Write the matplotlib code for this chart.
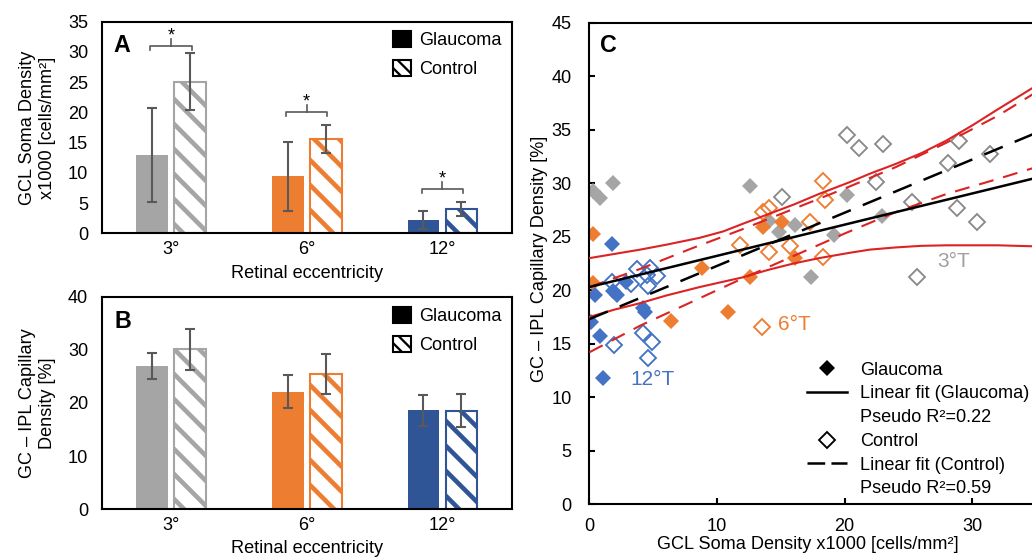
import numpy as np
import matplotlib
matplotlib.use('Agg')
import matplotlib.pyplot as plt
from matplotlib.lines import Line2D
from matplotlib.patches import Patch

plt.rcParams['font.family'] = ['Liberation Sans', 'DejaVu Sans']
plt.rcParams['lines.scale_dashes'] = False
plt.rcParams['hatch.linewidth'] = 2.2

GRAY = '#a5a5a5'
ORANGE = '#ed7d31'
BLUE_BAR = '#2f5597'
BLUE = '#4472c4'
ERR = '#595959'
RED = '#dc2323'
FS = 8.7

# ---- panels A / B : mean +- sd per eccentricity
ecc = ['3°', '6°', '12°']
bar_colors = [GRAY, ORANGE, BLUE_BAR]

soma_glaucoma = [12.9, 9.4, 2.2]
soma_glaucoma_sd = [7.8, 5.65, 1.45]
soma_control = [25.1, 15.6, 4.0]
soma_control_sd = [4.75, 2.3, 1.1]
soma_sig = [31.0, 20.1, 7.3]   # height of the significance brackets

cap_glaucoma = [27.0, 22.1, 18.6]
cap_glaucoma_sd = [2.5, 3.1, 2.9]
cap_control = [30.1, 25.4, 18.5]
cap_control_sd = [3.8, 3.8, 3.1]

# ---- panel C : soma density (x) vs capillary density (y)
gray_g_x = [0.3, 0.85, 1.85, 12.6, 14.1, 14.9, 16.1, 17.4, 19.2, 20.2, 22.9]
gray_g_y = [29.3, 28.6, 30.0, 29.7, 26.5, 25.4, 26.1, 21.2, 25.2, 28.9, 26.9]
gray_c_x = [20.2, 21.1, 23.0, 15.1, 22.5, 25.3, 28.1, 29.0, 31.4, 28.8, 30.4, 25.7]
gray_c_y = [34.5, 33.3, 33.7, 28.7, 30.1, 28.2, 31.9, 33.9, 32.7, 27.7, 26.4, 21.2]
orange_g_x = [0.3, 0.3, 6.4, 8.8, 10.9, 12.6, 13.6, 15.1, 16.1]
orange_g_y = [25.3, 20.7, 17.1, 22.1, 18.0, 21.2, 25.9, 26.4, 23.0]
orange_c_x = [18.3, 18.5, 13.6, 14.1, 17.3, 11.8, 14.1, 15.7, 18.3, 13.5]
orange_c_y = [30.2, 28.4, 27.3, 27.7, 26.4, 24.2, 23.6, 24.1, 23.1, 16.6]
blue_g_x = [1.8, 0.45, 1.85, 2.2, 2.9, 4.2, 4.35, 0.1, 0.8, 1.1]
blue_g_y = [24.3, 19.6, 19.9, 19.6, 20.8, 18.3, 18.0, 17.0, 15.7, 11.8]
blue_c_x = [1.8, 3.3, 3.7, 4.5, 4.6, 4.75, 5.3, 1.9, 4.2, 4.9, 4.6]
blue_c_y = [20.8, 20.6, 22.0, 21.4, 20.4, 22.1, 21.3, 14.9, 16.0, 15.2, 13.7]

fit_x = [0, 35]
fit_glaucoma = [20.3, 30.5]
fit_control = [17.3, 34.7]

ci_g_x = [0, 2, 4, 6, 8.65, 10.5, 12, 14, 16, 18, 20.4, 22, 24, 26, 28, 30, 32, 35]
ci_g_upper = [23.0, 23.4, 23.8, 24.25, 24.9, 25.5, 26.2, 27.1, 28.0, 29.0, 30.1,
              30.9, 31.8, 32.8, 34.0, 35.4, 36.9, 39.1]
ci_g_lower = [17.5, 18.2, 18.8, 19.5, 20.3, 20.8, 21.2, 21.9, 22.5, 23.0, 23.5,
              23.8, 24.0, 24.15, 24.2, 24.2, 24.2, 24.1]
ci_c_x = [0, 4, 8, 12, 16, 20, 24, 28, 32, 35]
ci_c_upper = [20.3, 22.0, 23.9, 25.7, 27.6, 29.5, 31.5, 33.8, 36.3, 38.5]
ci_c_lower = [14.2, 16.7, 18.9, 21.1, 23.2, 25.3, 27.3, 29.0, 30.4, 31.5]

fig = plt.figure(figsize=(1032 / 150, 559 / 150), dpi=150)
axA = fig.add_axes([0.09855, 0.58265, 0.39729, 0.37853])
axB = fig.add_axes([0.09855, 0.08891, 0.39729, 0.38032])
axC = fig.add_axes([0.57103, 0.09785, 0.43285, 0.86154])

w = 0.233
off = 0.14


def bar_panel(ax, g, g_sd, c, c_sd, ymax, ystep):
    x = np.arange(len(ecc))
    ax.bar(x - off, g, w, color=bar_colors, linewidth=0, zorder=2)
    ax.bar(x + off, c, w, color='white', edgecolor=bar_colors, hatch='\\\\',
           linewidth=1.0, zorder=2)
    ax.errorbar(x - off, g, yerr=g_sd, fmt='none', ecolor=ERR, elinewidth=1,
                capsize=2.6, capthick=1, zorder=3)
    ax.errorbar(x + off, c, yerr=c_sd, fmt='none', ecolor=ERR, elinewidth=1,
                capsize=2.6, capthick=1, zorder=3)
    ax.set_xlim(-0.51, 2.51)
    ax.set_ylim(0, ymax)
    ax.set_yticks(np.arange(0, ymax + 1, ystep))
    ax.set_xticks(x)
    ax.set_xticklabels(ecc)
    ax.tick_params(length=0, labelsize=FS)
    ax.tick_params(axis='y', pad=6.5)
    ax.tick_params(axis='x', pad=3.9)
    for s in ax.spines.values():
        s.set_linewidth(1.0)
    ax.set_xlabel('Retinal eccentricity', fontsize=FS)


bar_panel(axA, soma_glaucoma, soma_glaucoma_sd, soma_control, soma_control_sd, 35, 5)
bar_panel(axB, cap_glaucoma, cap_glaucoma_sd, cap_control, cap_control_sd, 40, 10)

# significance brackets in A
for i, y in enumerate(soma_sig):
    axA.plot([i - 0.153, i - 0.153, i + 0.153, i + 0.153], [y - 0.7, y, y, y - 0.7],
             color=ERR, lw=0.8, zorder=3)
    axA.plot([i, i], [y, y + 1.2], color=ERR, lw=0.8, zorder=3)
    axA.text(i, y + 0.9, '*', ha='center', va='baseline', fontsize=FS)

axA.set_ylabel('GCL Soma Density\nx1000 [cells/mm²]', fontsize=FS)
axB.set_ylabel('GC – IPL Capillary\nDensity [%]', fontsize=FS)
axA.yaxis.set_label_coords(-0.112, 0.5)
axB.yaxis.set_label_coords(-0.112, 0.5)
axA.xaxis.set_label_coords(0.5, -0.15)
axB.xaxis.set_label_coords(0.5, -0.144)
axA.text(0.028, 0.857, 'A', transform=axA.transAxes, fontsize=11.2,
         fontweight='bold', va='baseline')
axB.text(0.032, 0.851, 'B', transform=axB.transAxes, fontsize=11.2,
         fontweight='bold', va='baseline')

plt.rcParams['hatch.linewidth'] = 1.1
for ax, top in [(axA, 0.955), (axB, 0.950)]:
    hs = [Patch(facecolor='black', edgecolor='black'),
          Patch(facecolor='white', edgecolor='black', hatch='\\\\\\\\', linewidth=1.0)]
    ax.legend(hs, ['Glaucoma', 'Control'], loc='upper left', bbox_to_anchor=(0.7105, top),
              frameon=False, fontsize=FS, handlelength=1.0, handleheight=0.95,
              handletextpad=0.44, labelspacing=0.61, borderpad=0, borderaxespad=0)

# ---- panel C
ms_f, ms_o = 5.5, 5.1
axC.plot(gray_g_x, gray_g_y, 'D', color=GRAY, ms=ms_f, mew=0, zorder=2)
axC.plot(orange_g_x, orange_g_y, 'D', color=ORANGE, ms=ms_f, mew=0, zorder=2)
axC.plot(blue_g_x, blue_g_y, 'D', color=BLUE, ms=ms_f, mew=0, zorder=2)
axC.plot(gray_c_x, gray_c_y, 'D', mfc='none', mec='#8a8a8a', ms=ms_o, mew=0.9, zorder=2)
axC.plot(orange_c_x, orange_c_y, 'D', mfc='none', mec=ORANGE, ms=ms_o, mew=0.9, zorder=2)
axC.plot(blue_c_x, blue_c_y, 'D', mfc='none', mec=BLUE, ms=ms_o, mew=0.9, zorder=2)

axC.plot(ci_g_x, ci_g_upper, color=RED, lw=1.0, zorder=3)
axC.plot(ci_g_x, ci_g_lower, color=RED, lw=1.0, zorder=3)
axC.plot(ci_c_x, ci_c_upper, color=RED, lw=1.0, dashes=(7.2, 4.8), zorder=3)
axC.plot(ci_c_x, ci_c_lower, color=RED, lw=1.0, dashes=(7.2, 4.8), zorder=3)
axC.plot(fit_x, fit_glaucoma, color='black', lw=1.2, zorder=4)
axC.plot(fit_x, fit_control, color='black', lw=1.2, dashes=(9.6, 6.2), zorder=4)

axC.text(27.3, 22.2, '3°T', color='#a0a0a0', fontsize=10, va='baseline')
axC.text(14.8, 16.3, '6°T', color=ORANGE, fontsize=10, va='baseline')
axC.text(3.19, 11.15, '12°T', color=BLUE, fontsize=10, va='baseline')
axC.text(0.024, 0.94, 'C', transform=axC.transAxes, fontsize=11.2,
         fontweight='bold', va='baseline')

axC.set_xlim(0, 35)
axC.set_ylim(0, 45)
axC.set_xticks([0, 10, 20, 30])
axC.set_yticks(np.arange(0, 46, 5))
axC.tick_params(direction='in', length=2.7, width=1, labelsize=FS)
axC.tick_params(axis='y', pad=8.6)
axC.tick_params(axis='x', pad=6.7)
for s in axC.spines.values():
    s.set_linewidth(1.0)
axC.set_xlabel('GCL Soma Density x1000 [cells/mm²]', fontsize=FS)
axC.set_ylabel('GC – IPL Capillary Density [%]', fontsize=FS)
axC.xaxis.set_label_coords(0.49, -0.066)
axC.yaxis.set_label_coords(-0.092, 0.51)

hC = [Line2D([], [], ls='none', marker='D', color='black', ms=ms_f, mew=0),
      Line2D([], [], color='black', lw=1.2),
      Line2D([], [], color='none'),
      Line2D([], [], ls='none', marker='D', mfc='none', mec='black', ms=ms_o, mew=0.9),
      Line2D([], [], color='black', lw=1.2, dashes=(8.5, 3)),
      Line2D([], [], color='none')]
lC = ['Glaucoma', 'Linear fit (Glaucoma)', 'Pseudo R²=0.22',
      'Control', 'Linear fit (Control)', 'Pseudo R²=0.59']
axC.legend(hC, lC, loc='upper left', bbox_to_anchor=(0.487, 0.296), frameon=False,
           fontsize=FS, numpoints=1, handlelength=2.2, handletextpad=0.72,
           labelspacing=0.37, borderpad=0, borderaxespad=0)

fig.savefig('out.png', dpi=150)
